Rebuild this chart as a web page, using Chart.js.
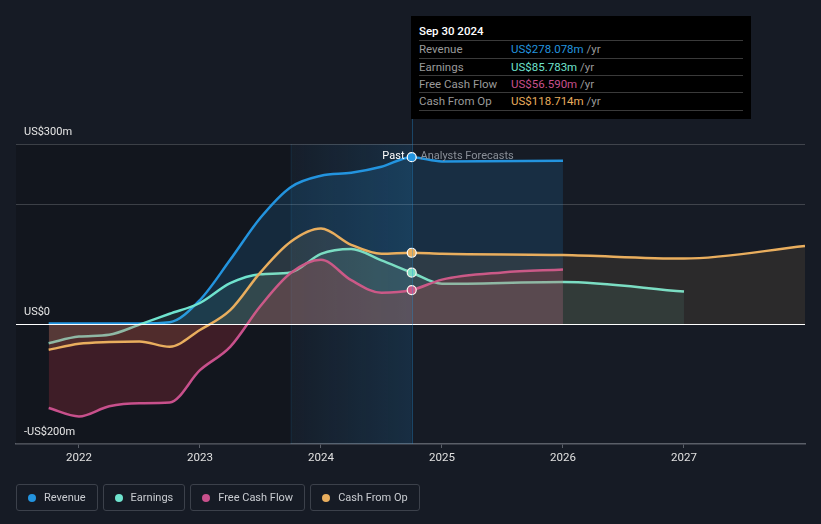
<!doctype html>
<html lang="en">
  <head>
    <meta charset="utf-8">
    <title>Revenue, Earnings and Cash Flow</title>
    <style>
      html, body { margin: 0; padding: 0; background: #161b25; }
      body { width: 821px; height: 524px; position: relative; overflow: hidden; font-family: Roboto, "Noto Sans", sans-serif; }
      .chartBox { position: absolute; left: 0; top: 0; width: 821px; height: 524px; }
      .tip { position: absolute; left: 411px; top: 16px; width: 340px; height: 103px; background: #000; box-sizing: border-box; padding: 7px 8px 0 8px; }
      .tip .date { color: #fff; font-size: 11.5px; font-weight: 500; height: 18.3px; line-height: 16px; border-bottom: 1px solid #3a3a3a; box-sizing: border-box; }
      .tip .row { height: 17.4px; line-height: 17px; font-size: 11.5px; border-bottom: 1px solid #3a3a3a; color: #9a9a9a; position: relative; box-sizing: border-box; }
      .tip .row span.v { position: absolute; left: 92px; }
      .tip .row em { font-style: normal; color: #9a9a9a; }
      .legend { position: absolute; left: 16px; top: 484px; display: flex; gap: 5px; }
      .legend div { height: 27px; border: 1px solid #3c414b; border-radius: 3px; box-sizing: border-box; padding: 0 11px 0 11px; display: flex; align-items: center; color: #c9ccd1; font-size: 11px; }
      .legend i { width: 8px; height: 8px; border-radius: 50%; display: inline-block; margin-right: 8px; }
    </style>
  </head>
  <body>
    <div class="chartBox"><canvas id="myChart"></canvas></div>

    <div class="tip">
      <div class="date">Sep 30 2024</div>
      <div class="row">Revenue<span class="v"><span style="color:#2394df">US$278.078m</span> <em>/yr</em></span></div>
      <div class="row">Earnings<span class="v"><span style="color:#6fe3ce">US$85.783m</span> <em>/yr</em></span></div>
      <div class="row">Free Cash Flow<span class="v"><span style="color:#c8508c">US$56.590m</span> <em>/yr</em></span></div>
      <div class="row">Cash From Op<span class="v"><span style="color:#e9ae5e">US$118.714m</span> <em>/yr</em></span></div>
    </div>

    <div class="legend">
      <div><i style="background:#2394df"></i>Revenue</div>
      <div><i style="background:#6fe3ce"></i>Earnings</div>
      <div><i style="background:#c8508c"></i>Free Cash Flow</div>
      <div><i style="background:#e9ae5e"></i>Cash From Op</div>
    </div>

    <script src="https://cdn.jsdelivr.net/npm/chart.js/dist/chart.umd.min.js"></script>
    <script>
    // quarterly history (decimal years), Sep 2021 .. Sep 2024
    const pastDates = [2021.75, 2022.0, 2022.25, 2022.5, 2022.75, 2023.0, 2023.25, 2023.5, 2023.75, 2024.0, 2024.25, 2024.5, 2024.75];
    const revenuePast   = [1, 1, 1, 1, 3, 40, 107, 177, 228, 247, 252, 262, 278.078];
    const earningsPast  = [-32, -21, -18, -1, 17, 35, 68, 83, 86, 117, 125, 106, 85.783];
    const fcfPast       = [-140, -154, -137, -132, -131, -77, -38, 30, 85, 107, 73, 52, 56.59];
    const cfoPast       = [-43, -33, -30, -29, -38, -10, 23, 86, 137, 159, 132, 117, 118.714];

    // analyst forecasts
    const revenueFcDates  = [2025, 2026];
    const revenueFc       = [271, 272];
    const earningsFcDates = [2025, 2026, 2027];
    const earningsFc      = [67, 70, 54];
    const fcfFcDates      = [2025, 2025.5, 2026];
    const fcfFc           = [74, 86, 91];
    const cfoFcDates      = [2025, 2026, 2027, 2028];
    const cfoFc           = [117, 115, 109, 130];

    const xTicks = [2022, 2023, 2024, 2025, 2026, 2027];
    const yLabels = [{ v: 300, t: 'US$300m' }, { v: 0, t: 'US$0' }, { v: -200, t: '-US$200m' }];
    const nowX = 2024.75, bandStart = 2023.75;

    function pts(xs, ys) { return xs.map((x, i) => ({ x: x, y: ys[i] })); }

    function series(label, color, fillColor, fcDates, fc, past) {
      return {
        label: label,
        data: pts(pastDates, past).concat(pts(fcDates, fc)),
        borderColor: color,
        backgroundColor: fillColor,
        borderWidth: 2.5,
        fill: 'origin',
        cubicInterpolationMode: 'monotone',
        pointRadius: ctx => (ctx.raw && ctx.raw.x === nowX ? 4.5 : 0),
        pointBackgroundColor: color,
        pointBorderColor: '#fff',
        pointBorderWidth: 1.2
      };
    }

    // gridlines, zero line, highlighted past year band, labels
    const decor = {
      id: 'decor',
      beforeDatasetsDraw(chart) {
        const { ctx, chartArea: a, scales: { x, y } } = chart;
        ctx.save();
        const x0 = x.getPixelForValue(bandStart), x1 = x.getPixelForValue(nowX);
        ctx.fillStyle = 'rgba(0,0,0,0.18)';
        ctx.fillRect(a.left, a.top, x0 - a.left, a.bottom - a.top);
        const g = ctx.createLinearGradient(x0, 0, x1, 0);
        g.addColorStop(0, 'rgba(35,148,223,0.03)');
        g.addColorStop(1, 'rgba(35,148,223,0.16)');
        ctx.fillStyle = g;
        ctx.fillRect(x0, a.top, x1 - x0, a.bottom - a.top);
        ctx.strokeStyle = 'rgba(35,148,223,0.12)';
        ctx.lineWidth = 1;
        ctx.beginPath(); ctx.moveTo(x0 + 0.5, a.top); ctx.lineTo(x0 + 0.5, a.bottom); ctx.stroke();

        ctx.strokeStyle = 'rgba(255,255,255,0.18)';
        [300, 200].forEach(v => {
          const py = Math.round(y.getPixelForValue(v)) + 0.5;
          ctx.beginPath(); ctx.moveTo(a.left, py); ctx.lineTo(a.right, py); ctx.stroke();
        });
        ctx.restore();
      },
      afterDatasetsDraw(chart) {
        const { ctx, chartArea: a, scales: { x, y } } = chart;
        ctx.save();
        const zy = Math.round(y.getPixelForValue(0)) + 0.5;
        ctx.strokeStyle = '#ffffff';
        ctx.lineWidth = 1.2;
        ctx.beginPath(); ctx.moveTo(a.left, zy); ctx.lineTo(a.right, zy); ctx.stroke();

        const nx = Math.round(x.getPixelForValue(nowX)) + 0.5;
        ctx.strokeStyle = 'rgba(35,148,223,0.35)';
        ctx.lineWidth = 1;
        ctx.beginPath(); ctx.moveTo(nx, 119); ctx.lineTo(nx, a.bottom); ctx.stroke();

        ctx.font = '11px Roboto, "Noto Sans", sans-serif';
        ctx.textBaseline = 'middle';
        ctx.fillStyle = '#e6e6e6';
        yLabels.forEach(l => ctx.fillText(l.t, 24, y.getPixelForValue(l.v) - 12));

        const ly = y.getPixelForValue(278) - 1;
        ctx.textAlign = 'right';
        ctx.fillStyle = '#ffffff';
        ctx.fillText('Past', nx - 8, ly);
        ctx.textAlign = 'left';
        ctx.fillStyle = '#8a8f98';
        ctx.fillText('Analysts Forecasts', nx + 8, ly);
        ctx.restore();
      }
    };

    const config = {
      type: 'line',
      data: {
        datasets: [
          series('Cash From Op', '#e9ae5e', 'rgba(233,174,94,0.10)', cfoFcDates, cfoFc, cfoPast),
          series('Free Cash Flow', '#c8508c', 'rgba(205,55,65,0.24)', fcfFcDates, fcfFc, fcfPast),
          series('Earnings', '#6fe3ce', 'rgba(111,227,206,0.10)', earningsFcDates, earningsFc, earningsPast),
          series('Revenue', '#2394df', 'rgba(35,148,223,0.16)', revenueFcDates, revenueFc, revenuePast)
        ]
      },
      options: {
        responsive: false,
        animation: false,
        layout: { padding: { left: 16, right: 16, top: 144, bottom: 0 } },
        plugins: { legend: { display: false }, tooltip: { enabled: false } },
        scales: {
          x: {
            type: 'linear',
            min: 2021.48,
            max: 2028.0,
            afterBuildTicks: s => { s.ticks = xTicks.map(v => ({ value: v })); },
            afterFit: s => { s.height = 80; },
            ticks: { color: '#e0e0e0', font: { size: 11.5, family: 'Roboto' }, padding: 3, callback: v => String(v) },
            grid: { drawOnChartArea: false, tickLength: 4, color: '#5a5f68' },
            border: { color: '#5a5f68', width: 1.5 }
          },
          y: { min: -200, max: 300, display: false }
        }
      },
      plugins: [decor]
    };

    const canvas = document.getElementById('myChart');
    canvas.width = 821; canvas.height = 524;
    const myChart = new Chart(canvas, config);
    </script>
  </body>
</html>
